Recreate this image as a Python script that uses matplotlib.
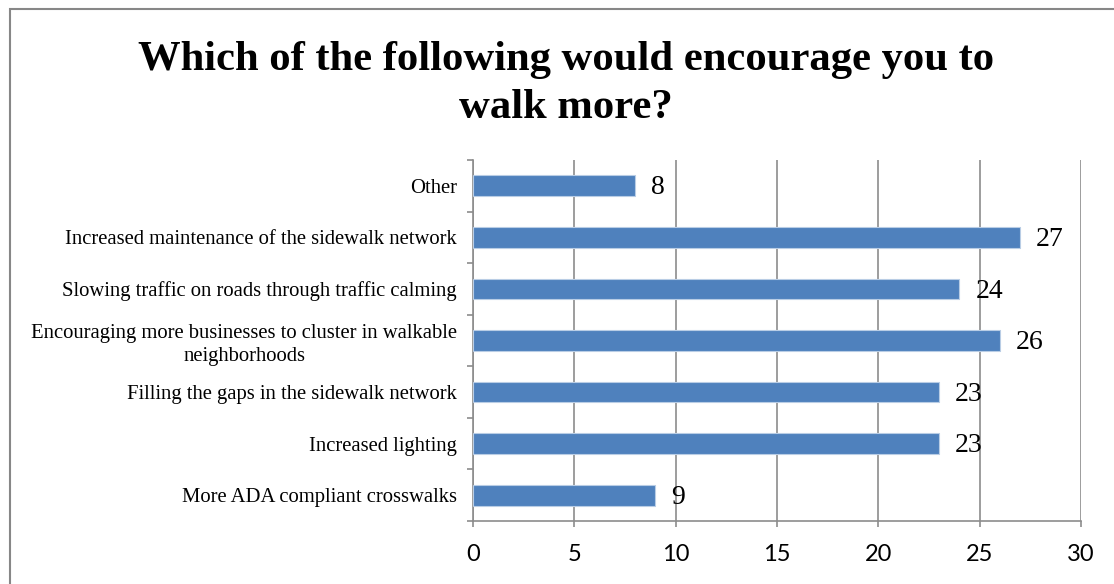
'''Horizontal bar chart: what would encourage people to walk more'''

import matplotlib
matplotlib.use("Agg")
import matplotlib.pyplot as plt
from matplotlib.patches import Rectangle

# data, top to bottom as shown in the chart
categories = ["Other",
              "Increased maintenance of the sidewalk network",
              "Slowing traffic on roads through traffic calming",
              "Encouraging more businesses to cluster in walkable\nneighborhoods",
              "Filling the gaps in the sidewalk network",
              "Increased lighting",
              "More ADA compliant crosswalks"]
counts = [8, 27, 24, 26, 23, 23, 9]
xticks = [0, 5, 10, 15, 20, 25, 30]

title = "Which of the following would encourage you to\nwalk more?"

bar_color = "#4f81bd"
grid_color = "#8c8c8c"
serif = "Liberation Serif"

fig = plt.figure(figsize=(11.14, 5.84), dpi=100)
ax = fig.add_axes([473 / 1114, 1 - 521 / 584, 608 / 1114, 361 / 584])

# excel draws categories bottom-up, so reverse for the y positions
ypos = list(range(len(categories)))[::-1]
ax.barh(ypos, counts, height=0.4, color=bar_color,
        edgecolor="#b9cde5", linewidth=0.8, zorder=3)

for y, v in zip(ypos, counts):
    ax.annotate(str(v), xy=(v, y), xytext=(11.5, -1.5),
                textcoords="offset points", ha="left", va="center",
                fontsize=20, family=serif, color="black", zorder=4)

ax.set_xlim(0, 30)
ax.set_ylim(-0.5, len(categories) - 0.5)
ax.set_xticks(xticks)
ax.set_xticklabels([str(t) for t in xticks], family="Lato", fontsize=17)

# category boundary ticks, labels at the centers
ax.set_yticks([y - 0.5 for y in range(len(categories) + 1)])
ax.set_yticklabels([])
ax.set_yticks(ypos, minor=True)
ax.set_yticklabels(categories, minor=True, family=serif, fontsize=14.9,
                   multialignment="center", linespacing=1.3)
ax.tick_params(axis="y", which="minor", length=0, pad=11.5)
ax.tick_params(axis="y", which="major", length=4, width=1.2,
               color=grid_color, direction="out")
ax.tick_params(axis="x", length=4.5, width=1.2, color=grid_color, pad=12)

ax.grid(axis="x", color=grid_color, linewidth=1.2, zorder=0)
ax.set_axisbelow(True)
ax.spines["top"].set_visible(False)
ax.spines["right"].set_visible(False)
for side in ["left", "bottom"]:
    ax.spines[side].set_color(grid_color)
    ax.spines[side].set_linewidth(1.2)

fig.text(566 / 1114, 1 - 84 / 584, title, ha="center", va="center",
         family=serif, fontweight="bold", fontsize=30.7, linespacing=1.35)

# chart area border (only top and left visible in the crop)
fig.patches.append(Rectangle((9.5 / 1114, -0.05), 1.1, 1 - 8.5 / 584 + 0.05,
                             transform=fig.transFigure, fill=False,
                             edgecolor="#878787", linewidth=1.5))

fig.savefig("out.png", dpi=100, facecolor="white")
